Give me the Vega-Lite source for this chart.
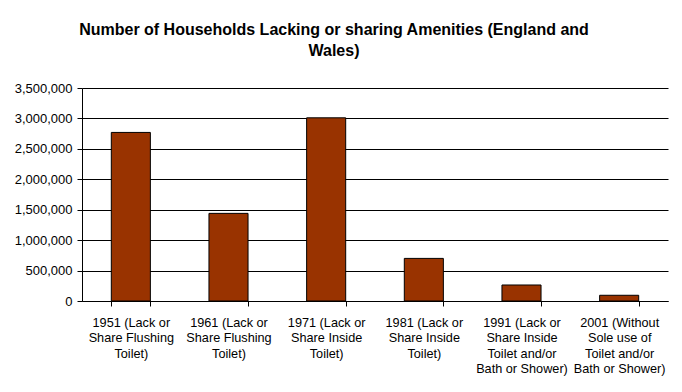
{
  "$schema": "https://vega.github.io/schema/vega-lite/v6.json",
  "width": 586,
  "height": 213,
  "autosize": {"type": "none"},
  "padding": {"left": 82, "top": 88, "right": 14, "bottom": 91},
  "background": "white",
  "title": {
    "text": ["Number of Households Lacking or sharing Amenities (England and", "Wales)"],
    "font": "Liberation Sans",
    "fontSize": 16,
    "fontWeight": "bold",
    "color": "black",
    "anchor": "middle",
    "frame": "group",
    "dx": -41,
    "lineHeight": 21,
    "offset": 23
  },
  "data": {
    "values": [
      {"category": "1951 (Lack or|Share Flushing|Toilet)", "households": 2770000},
      {"category": "1961 (Lack or|Share Flushing|Toilet)", "households": 1440000},
      {"category": "1971 (Lack or|Share Inside|Toilet)", "households": 3010000},
      {"category": "1981 (Lack or|Share Inside|Toilet)", "households": 700000},
      {"category": "1991 (Lack or|Share Inside|Toilet and/or|Bath or Shower)", "households": 263000},
      {"category": "2001 (Without|Sole use of|Toilet and/or|Bath or Shower)", "households": 94000}
    ]
  },
  "mark": {"type": "bar", "color": "#993300", "stroke": "black", "strokeWidth": 1},
  "encoding": {
    "x": {
      "field": "category",
      "type": "nominal",
      "sort": null,
      "scale": {"paddingInner": 0.6, "paddingOuter": 0.3},
      "axis": {
        "title": null,
        "labelAngle": 0,
        "labelExpr": "datum.value ? split(datum.value, '|') : ''",
        "labelFont": "Liberation Sans",
        "labelFontSize": 12.7,
        "labelLineHeight": 15.5,
        "labelColor": "black",
        "labelPadding": 10,
        "labelBaseline": "top",
        "tickBand": "extent",
        "tickColor": "black",
        "tickSize": 5,
        "domainColor": "black",
        "labelLimit": 200
      }
    },
    "y": {
      "field": "households",
      "type": "quantitative",
      "scale": {"domain": [0, 3500000], "nice": false},
      "axis": {
        "title": null,
        "values": [0, 500000, 1000000, 1500000, 2000000, 2500000, 3000000, 3500000],
        "format": ",d",
        "labelFont": "Liberation Sans",
        "labelFontSize": 13,
        "labelColor": "black",
        "labelPadding": 5,
        "tickColor": "black",
        "tickSize": 5,
        "domainColor": "black",
        "grid": true,
        "gridColor": "black",
        "gridOpacity": 1
      }
    }
  },
  "config": {"view": {"stroke": null}}
}
